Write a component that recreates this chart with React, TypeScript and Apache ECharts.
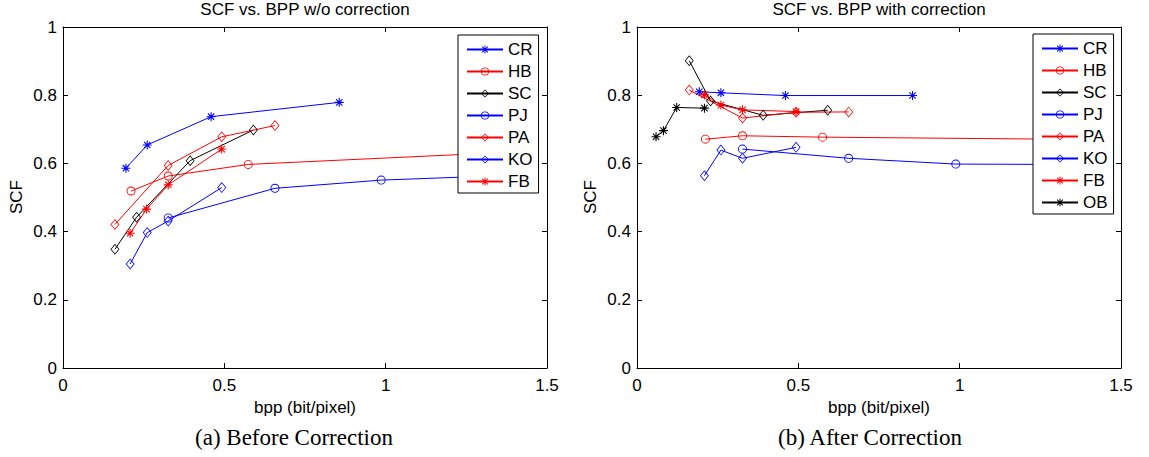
import React, { useEffect, useRef } from "react";
import * as echarts from "echarts";

// ---------- data: (a) before correction ----------
const NAMES_A = ["CR", "HB", "SC", "PJ", "PA", "KO", "FB"];
const CR_X_A = [0.195, 0.261, 0.459, 0.856];
const CR_Y_A = [0.586, 0.654, 0.737, 0.779];
const HB_X_A = [0.211, 0.326, 0.574, 1.3];
const HB_Y_A = [0.519, 0.563, 0.597, 0.629];
const SC_X_A = [0.161, 0.228, 0.394, 0.59];
const SC_Y_A = [0.348, 0.442, 0.608, 0.698];
const PJ_X_A = [0.326, 0.657, 0.986, 1.3];
const PJ_Y_A = [0.44, 0.527, 0.551, 0.562];
const PA_X_A = [0.161, 0.326, 0.492, 0.657];
const PA_Y_A = [0.421, 0.594, 0.678, 0.711];
const KO_X_A = [0.208, 0.261, 0.326, 0.492];
const KO_Y_A = [0.305, 0.397, 0.431, 0.529];
const FB_X_A = [0.208, 0.259, 0.326, 0.492];
const FB_Y_A = [0.395, 0.466, 0.537, 0.642];

// ---------- data: (b) after correction ----------
const NAMES_B = ["CR", "HB", "SC", "PJ", "PA", "KO", "FB", "OB"];
const CR_X_B = [0.193, 0.26, 0.46, 0.854];
const CR_Y_B = [0.81, 0.807, 0.799, 0.799];
const HB_X_B = [0.212, 0.327, 0.575, 1.3];
const HB_Y_B = [0.671, 0.681, 0.677, 0.671];
const SC_X_B = [0.162, 0.228, 0.391, 0.591];
const SC_Y_B = [0.901, 0.783, 0.741, 0.756];
const PJ_X_B = [0.327, 0.656, 0.988, 1.3];
const PJ_Y_B = [0.642, 0.615, 0.598, 0.597];
const PA_X_B = [0.162, 0.327, 0.493, 0.656];
const PA_Y_B = [0.815, 0.733, 0.75, 0.751];
const KO_X_B = [0.209, 0.26, 0.327, 0.493];
const KO_Y_B = [0.564, 0.639, 0.615, 0.647];
const FB_X_B = [0.209, 0.26, 0.327, 0.493];
const FB_Y_B = [0.801, 0.771, 0.757, 0.752];
const OB_X_B = [0.059, 0.082, 0.123, 0.209];
const OB_Y_B = [0.678, 0.696, 0.764, 0.762];

const X_TICKS = [0, 0.5, 1, 1.5];
const Y_TICKS = [0, 0.2, 0.4, 0.6, 0.8, 1];

const TITLE_A = "SCF vs. BPP w/o correction";
const TITLE_B = "SCF vs. BPP with correction";
const X_NAME = "bpp (bit/pixel)";
const Y_NAME = "SCF";
const CAPTION_A = "(a) Before Correction";
const CAPTION_B = "(b) After Correction";

// ---------- marker shapes ----------
const STAR =
  "path://M-0.6,-5L0.6,-5L0.6,5L-0.6,5Z M-5,-0.6L5,-0.6L5,0.6L-5,0.6Z M-3.11,-3.96L3.96,3.11L3.11,3.96L-3.96,-3.11Z M-3.96,3.11L3.11,-3.96L3.96,-3.11L-3.11,3.96Z";
const RING =
  "path://M0,-5A5,5,0,1,1,0,5A5,5,0,1,1,0,-5Z M0,-4A4,4,0,1,0,0,4A4,4,0,1,0,0,-4Z";
const DIAMOND = "path://M0,-5L5,0L0,5L-5,0Z M0,-3.9L-3.9,0L0,3.9L3.9,0Z";

const BLUE = "#0000ff";
const RED = "#ff0000";
const BLACK = "#000000";

const STYLE: Record<string, { color: string; symbol: string; size: any }> = {
  CR: { color: BLUE, symbol: STAR, size: 9 },
  HB: { color: RED, symbol: RING, size: 9 },
  SC: { color: BLACK, symbol: DIAMOND, size: [9, 11] },
  PJ: { color: BLUE, symbol: RING, size: 9 },
  PA: { color: RED, symbol: DIAMOND, size: [9, 11] },
  KO: { color: BLUE, symbol: DIAMOND, size: [9, 11] },
  FB: { color: RED, symbol: STAR, size: 9 },
  OB: { color: BLACK, symbol: STAR, size: 9 },
};

const SANS = "Liberation Sans, Arial, sans-serif";
const SERIF = "Liberation Serif, Times New Roman, serif";

const zip = (xs: number[], ys: number[]) => xs.map((x, i) => [x, ys[i]]);

const DATA_A: Record<string, number[][]> = {
  CR: zip(CR_X_A, CR_Y_A),
  HB: zip(HB_X_A, HB_Y_A),
  SC: zip(SC_X_A, SC_Y_A),
  PJ: zip(PJ_X_A, PJ_Y_A),
  PA: zip(PA_X_A, PA_Y_A),
  KO: zip(KO_X_A, KO_Y_A),
  FB: zip(FB_X_A, FB_Y_A),
};
const DATA_B: Record<string, number[][]> = {
  CR: zip(CR_X_B, CR_Y_B),
  HB: zip(HB_X_B, HB_Y_B),
  SC: zip(SC_X_B, SC_Y_B),
  PJ: zip(PJ_X_B, PJ_Y_B),
  PA: zip(PA_X_B, PA_Y_B),
  KO: zip(KO_X_B, KO_Y_B),
  FB: zip(FB_X_B, FB_Y_B),
  OB: zip(OB_X_B, OB_Y_B),
};

function makeSeries(names: string[], data: Record<string, number[][]>, axisIdx: number) {
  return names.map((n) => ({
    type: "line",
    name: n,
    xAxisIndex: axisIdx,
    yAxisIndex: axisIdx,
    data: data[n],
    symbol: STYLE[n].symbol,
    symbolSize: STYLE[n].size,
    showAllSymbol: true,
    lineStyle: { color: STYLE[n].color, width: 1 },
    itemStyle: { color: STYLE[n].color, borderWidth: 0 },
    emphasis: { disabled: true },
    z: 2,
  }));
}

function axisPair(gridIndex: number) {
  const common = {
    gridIndex,
    type: "value",
    axisLine: { show: true, onZero: false, lineStyle: { color: "#000", width: 1 } },
    axisTick: { show: true, inside: true, length: 5, lineStyle: { color: "#000" } },
    splitLine: { show: false },
  };
  const x = [
    {
      ...common,
      position: "bottom",
      min: 0,
      max: 1.5,
      interval: 0.5,
      axisLabel: {
        show: true,
        margin: 9,
        fontSize: 17,
        color: "#000",
        fontFamily: SANS,
        formatter: (v: number) => (X_TICKS.includes(v) ? String(v) : ""),
      },
    },
    {
      ...common,
      position: "top",
      min: 0,
      max: 1.5,
      interval: 0.5,
      axisLabel: { show: false },
    },
  ];
  const y = [
    {
      ...common,
      position: "left",
      min: 0,
      max: 1,
      interval: 0.2,
      axisLabel: {
        show: true,
        margin: 6,
        fontSize: 17,
        color: "#000",
        fontFamily: SANS,
        formatter: (v: number) => {
          const t = Y_TICKS.find((k) => Math.abs(k - v) < 1e-9);
          return t === undefined ? "" : String(t);
        },
      },
    },
    {
      ...common,
      position: "right",
      min: 0,
      max: 1,
      interval: 0.2,
      axisLabel: { show: false },
    },
  ];
  return { x, y };
}

function legend(names: string[], left: number, top: number) {
  return {
    orient: "vertical",
    left,
    top,
    data: names,
    itemWidth: 36,
    itemHeight: 10,
    itemGap: 5,
    padding: [6, 6, 3, 8],
    backgroundColor: "#fff",
    borderColor: "#000",
    borderWidth: 1,
    selectedMode: false,
    textStyle: { fontSize: 17, color: "#000", fontFamily: SANS },
    z: 10,
  };
}

export default function App() {
  const ref = useRef<HTMLDivElement>(null);
  useEffect(() => {
    if (!ref.current) return;
    const chart = echarts.init(ref.current, undefined, { renderer: "svg" });
    const a = axisPair(0);
    const b = axisPair(1);
    const xAxis = [a.x[0], a.x[1], b.x[0], b.x[1]];
    const yAxis = [a.y[0], a.y[1], b.y[0], b.y[1]];
    const texts = [
      { text: TITLE_A, x: 305, y: 9, size: 17, font: SANS },
      { text: TITLE_B, x: 879, y: 9, size: 17, font: SANS },
      { text: X_NAME, x: 305, y: 407, size: 17, font: SANS },
      { text: X_NAME, x: 879, y: 407, size: 17, font: SANS },
      { text: CAPTION_A, x: 294, y: 437, size: 23, font: SERIF },
      { text: CAPTION_B, x: 870, y: 437, size: 23, font: SERIF },
    ];
    const graphic: any[] = texts.map((t) => ({
      type: "text",
      x: t.x,
      y: t.y,
      style: {
        text: t.text,
        fontSize: t.size,
        fontFamily: t.font,
        fill: "#000",
        align: "center",
        verticalAlign: "middle",
      },
    }));
    [16, 590].forEach((x) =>
      graphic.push({
        type: "text",
        x,
        y: 197,
        rotation: Math.PI / 2,
        style: {
          text: Y_NAME,
          fontSize: 17,
          fontFamily: SANS,
          fill: "#000",
          align: "center",
          verticalAlign: "middle",
        },
      })
    );
    chart.setOption({
      animation: false,
      backgroundColor: "#fff",
      grid: [
        { left: 63, top: 27, width: 484, height: 341 },
        { left: 637, top: 27, width: 484, height: 341 },
      ],
      xAxis: xAxis.map((ax, i) => ({ ...ax, gridIndex: i < 2 ? 0 : 1 })),
      yAxis: yAxis.map((ax, i) => ({ ...ax, gridIndex: i < 2 ? 0 : 1 })),
      legend: [legend(NAMES_A, 458, 35), legend(NAMES_B, 1033, 34)],
      series: [
        ...makeSeries(NAMES_A, DATA_A, 0).map((s) => ({ ...s, xAxisIndex: 0, yAxisIndex: 0 })),
        ...makeSeries(NAMES_B, DATA_B, 2).map((s) => ({ ...s, xAxisIndex: 2, yAxisIndex: 2 })),
      ],
      graphic,
    });
    return () => chart.dispose();
  }, []);
  return (
    <div
      ref={ref}
      style={{ position: "fixed", left: 0, top: 0, width: 1149, height: 457 }}
    />
  );
}
